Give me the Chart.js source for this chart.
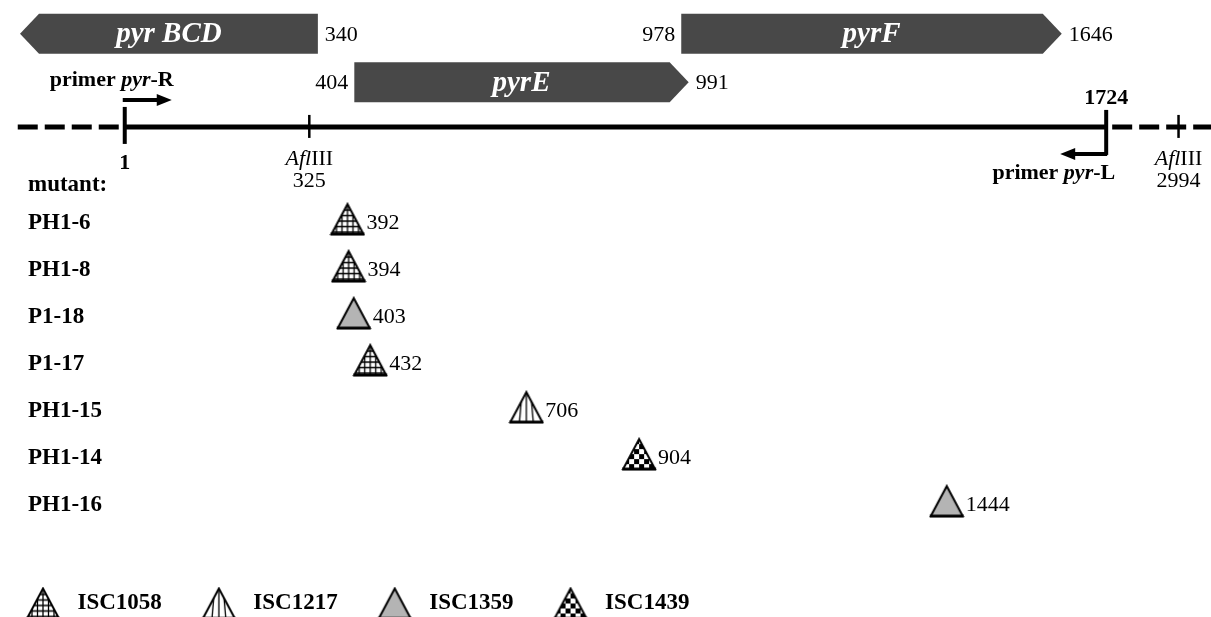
<!DOCTYPE html>
<html>
<head>
<meta charset="utf-8">
<script src="https://cdn.jsdelivr.net/npm/chart.js@4.4.1/dist/chart.umd.min.js"></script>
<style>
  html, body { margin: 0; padding: 0; background: #fff; }
  #wrap { width: 1211px; height: 617px; }
</style>
</head>
<body>
<div id="wrap"><canvas id="mapChart"></canvas></div>
<script>
// data
const mutants = ['PH1-6', 'PH1-8', 'P1-18', 'P1-17', 'PH1-15', 'PH1-14', 'PH1-16'];
const insertPos = [392, 394, 403, 432, 706, 904, 1444];
const insertIS = ['ISC1058', 'ISC1058', 'ISC1359', 'ISC1058', 'ISC1217', 'ISC1439', 'ISC1359'];
const isTypes = ['ISC1058', 'ISC1217', 'ISC1359', 'ISC1439'];
const geneNames = ['pyr BCD', 'pyrE', 'pyrF'];
const geneStart = [null, 404, 978];
const geneEnd = [340, 991, 1646];
const geneStrand = [-1, 1, 1];
const siteNames = ['AflIII', 'AflIII'];
const sitePos = [325, 2994];
const regionStart = 1;
const regionEnd = 1724;

const SERIF = '"Liberation Serif", "Times New Roman", serif';
const font = (size, weight, style) => `${style || 'normal'} ${weight || 'normal'} ${size}px ${SERIF}`;

// beyond the sequenced region the map is drawn with a break (dashed line)
const flankScale = 0.1;
const mapBp = bp => bp > regionEnd ? regionEnd + (bp - regionEnd) * flankScale : bp;

// triangle symbols for the IS elements
function makeTriangle(kind) {
    const c = document.createElement('canvas');
    c.width = 36; c.height = 34;
    const g = c.getContext('2d');
    const path = () => { g.beginPath(); g.moveTo(18, 2); g.lineTo(34, 32); g.lineTo(2, 32); g.closePath(); };
    path();
    g.fillStyle = kind === 'ISC1359' ? '#b4b4b4' : '#fff';
    g.fill();
    g.save();
    path(); g.clip();
    g.strokeStyle = '#000'; g.fillStyle = '#000'; g.lineWidth = 1.3;
    if (kind === 'ISC1058') {
        for (let v = 8; v < 34; v += 5.5) {
            g.beginPath(); g.moveTo(0, v); g.lineTo(36, v); g.stroke();
        }
        for (let u = 7; u < 34; u += 5.5) {
            g.beginPath(); g.moveTo(u, 0); g.lineTo(u, 34); g.stroke();
        }
    } else if (kind === 'ISC1217') {
        [[11, 13.5], [18, 18], [25, 22.5]].forEach(([b, t]) => {
            g.beginPath(); g.moveTo(t, 4); g.lineTo(b, 33); g.stroke();
        });
    } else if (kind === 'ISC1439') {
        const s = 5;
        for (let r = 0; r * s < 34; r++) {
            for (let q = 0; q * s < 36; q++) {
                if ((r + q) % 2 === 0) g.fillRect(q * s + 3, r * s + 2, s, s);
            }
        }
    }
    g.restore();
    path();
    g.lineWidth = 2; g.strokeStyle = '#000'; g.lineJoin = 'miter';
    g.stroke();
    g.beginPath(); g.moveTo(1, 32); g.lineTo(35, 32); g.lineWidth = 3; g.stroke();
    return c;
}
const triangleImg = {};
isTypes.forEach(t => { triangleImg[t] = makeTriangle(t); });

const datasets = isTypes.map(t => ({
    label: t,
    data: insertPos.map((p, i) => ({ x: p, y: i, pos: p })).filter((d, i) => insertIS[i] === t),
    pointStyle: triangleImg[t],
    pointRadius: 10,
    pointHoverRadius: 10,
    showLine: false
}));

// vertical layout in row units (row 0 = first mutant)
const LANE_ROWS = [-3.94, -2.91];
const geneLane = [0, 1, 0];
const MAP_ROW = -1.96;
const MUTANT_HEADER_ROW = -0.72;

function drawRich(ctx, parts, x, y, align) {
    let total = 0;
    parts.forEach(p => { ctx.font = p[1]; total += ctx.measureText(p[0]).width; });
    let cx = align === 'right' ? x - total : align === 'center' ? x - total / 2 : x;
    ctx.textAlign = 'left';
    parts.forEach(p => { ctx.font = p[1]; ctx.fillText(p[0], cx, y); cx += ctx.measureText(p[0]).width; });
}

function arrow(ctx, xFrom, xTo, y) {
    const dir = Math.sign(xTo - xFrom);
    ctx.beginPath();
    ctx.moveTo(xFrom, y); ctx.lineTo(xTo - dir * 12, y);
    ctx.lineWidth = 4; ctx.stroke();
    ctx.beginPath();
    ctx.moveTo(xTo, y); ctx.lineTo(xTo - dir * 15, y - 6); ctx.lineTo(xTo - dir * 15, y + 6); ctx.closePath();
    ctx.fill();
}

const mapPlugin = {
    id: 'geneMap',
    afterDatasetsDraw(chart) {
        const { ctx, chartArea: area } = chart;
        const xS = chart.scales.x, yS = chart.scales.y;
        const X = v => xS.getPixelForValue(v);
        ctx.save();
        ctx.fillStyle = '#000'; ctx.strokeStyle = '#000';
        ctx.textBaseline = 'middle';

        // genes
        geneNames.forEach((name, i) => {
            const yc = yS.getPixelForValue(LANE_ROWS[geneLane[i]]);
            const h = 40, head = 19;
            const x0 = geneStart[i] == null ? area.left + 20 : X(geneStart[i]);
            const x1 = X(geneEnd[i]);
            ctx.beginPath();
            if (geneStrand[i] > 0) {
                ctx.moveTo(x0, yc - h / 2); ctx.lineTo(x1 - head, yc - h / 2); ctx.lineTo(x1, yc);
                ctx.lineTo(x1 - head, yc + h / 2); ctx.lineTo(x0, yc + h / 2);
            } else {
                ctx.moveTo(x1, yc - h / 2); ctx.lineTo(x0 + head, yc - h / 2); ctx.lineTo(x0, yc);
                ctx.lineTo(x0 + head, yc + h / 2); ctx.lineTo(x1, yc + h / 2);
            }
            ctx.closePath();
            ctx.fillStyle = '#484848';
            ctx.fill();
            ctx.fillStyle = '#fff';
            ctx.font = font(29, 'bold', 'italic');
            ctx.textAlign = 'center';
            ctx.fillText(name, (x0 + x1) / 2, yc + 1);
            ctx.fillStyle = '#000';
            ctx.font = font(22);
            if (geneStart[i] != null) {
                ctx.textAlign = 'right';
                ctx.fillText(String(geneStart[i]), x0 - 6, yc + 1);
            }
            ctx.textAlign = 'left';
            ctx.fillText(String(geneEnd[i]), x1 + 7, yc + 1);
        });

        // map line
        const ly = yS.getPixelForValue(MAP_ROW);
        const xa = X(regionStart), xb = X(regionEnd);
        ctx.lineWidth = 5;
        ctx.setLineDash([20, 7]);
        ctx.beginPath(); ctx.moveTo(xa - 6, ly); ctx.lineTo(area.left + 12, ly); ctx.stroke();
        ctx.beginPath(); ctx.moveTo(xb + 6, ly); ctx.lineTo(area.right, ly); ctx.stroke();
        ctx.setLineDash([]);
        ctx.beginPath(); ctx.moveTo(xa, ly); ctx.lineTo(xb, ly); ctx.stroke();

        // region ends
        ctx.lineWidth = 4;
        ctx.beginPath(); ctx.moveTo(xa, ly - 20); ctx.lineTo(xa, ly + 17); ctx.stroke();
        ctx.beginPath(); ctx.moveTo(xb, ly - 17); ctx.lineTo(xb, ly + 28); ctx.stroke();
        ctx.font = font(22, 'bold');
        ctx.textAlign = 'center';
        ctx.fillText(String(regionStart), xa, ly + 36);
        ctx.fillText(String(regionEnd), xb, ly - 29);

        // primers
        arrow(ctx, xa - 2, xa + 47, ly - 27);
        arrow(ctx, xb + 1, xb - 46, ly + 27);
        drawRich(ctx, [['primer ', font(22, 'bold')], ['pyr', font(22, 'bold', 'italic')], ['-R', font(22, 'bold')]],
            xa - 75, ly - 47, 'left');
        drawRich(ctx, [['primer ', font(22, 'bold')], ['pyr', font(22, 'bold', 'italic')], ['-L', font(22, 'bold')]],
            xb + 9, ly + 46, 'right');

        // restriction sites
        sitePos.forEach((p, i) => {
            const sx = X(mapBp(p));
            ctx.lineWidth = 2.5;
            ctx.beginPath(); ctx.moveTo(sx, ly - 12); ctx.lineTo(sx, ly + 11); ctx.stroke();
            drawRich(ctx, [[siteNames[i].slice(0, 3), font(22, 'normal', 'italic')], [siteNames[i].slice(3), font(22)]],
                sx, ly + 32, 'center');
            ctx.font = font(22);
            ctx.textAlign = 'center';
            ctx.fillText(String(p), sx, ly + 54);
        });

        // mutant names
        ctx.font = font(23, 'bold');
        ctx.textAlign = 'left';
        ctx.fillText('mutant:', area.left + 28, yS.getPixelForValue(MUTANT_HEADER_ROW));
        mutants.forEach((m, i) => ctx.fillText(m, area.left + 28, yS.getPixelForValue(i) + 4));

        // insertion positions next to the triangles
        ctx.font = font(22);
        chart.data.datasets.forEach((ds, di) => {
            chart.getDatasetMeta(di).data.forEach((pt, j) => {
                ctx.fillText(String(ds.data[j].pos), pt.x + 19, pt.y + 4);
            });
        });
        ctx.restore();
    }
};

new Chart(document.getElementById('mapChart'), {
    type: 'scatter',
    data: { datasets },
    options: {
        responsive: true,
        maintainAspectRatio: false,
        animation: false,
        events: [],
        layout: { autoPadding: false, padding: { left: -14, right: 0, top: 0, bottom: -8 } },
        scales: {
            x: { type: 'linear', display: false, min: -218, max: 1908 },
            y: { type: 'linear', display: false, reverse: true, min: -4.66, max: 7.21 }
        },
        plugins: {
            legend: {
                position: 'bottom',
                align: 'start',
                labels: {
                    usePointStyle: true,
                    pointStyleWidth: 46,
                    padding: 34,
                    color: '#000',
                    font: { family: SERIF, size: 23, weight: 'bold' }
                }
            },
            tooltip: { enabled: false }
        }
    },
    plugins: [mapPlugin]
});
</script>
</body>
</html>
